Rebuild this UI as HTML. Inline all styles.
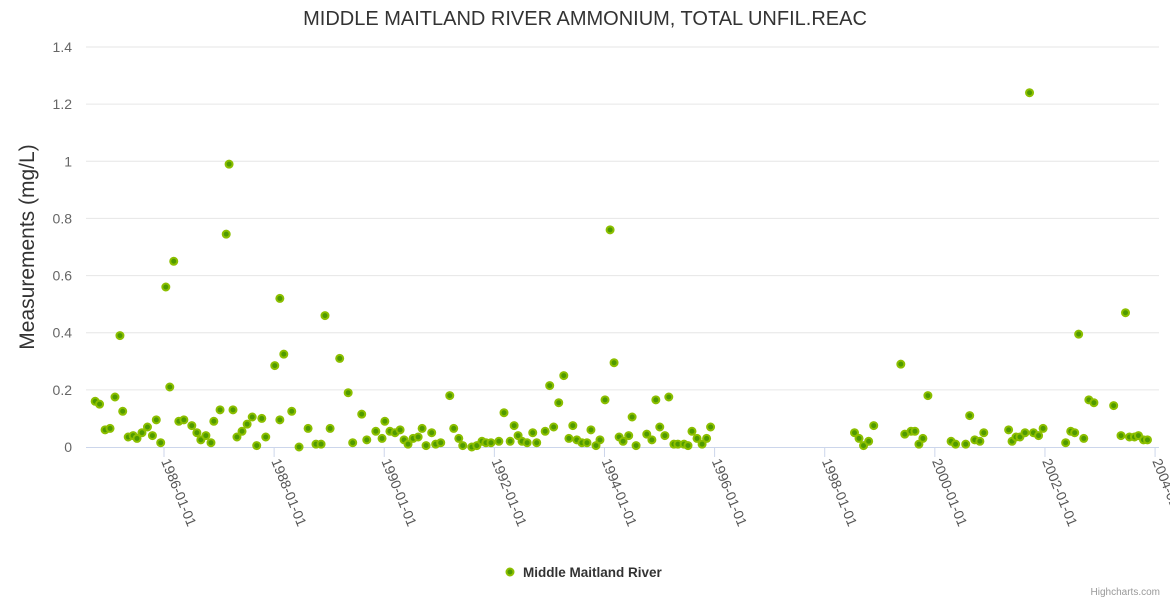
<!DOCTYPE html>
<html><head><meta charset="utf-8">
<style>
body{margin:0;background:#fff;width:1170px;height:600px;overflow:hidden;font-family:"Liberation Sans",sans-serif}
</style></head>
<body>
<svg id="chart" width="1170" height="600" xmlns="http://www.w3.org/2000/svg">
<text x="585" y="25" text-anchor="middle" font-size="20" fill="#333" font-family="Liberation Sans, sans-serif">MIDDLE MAITLAND RIVER AMMONIUM, TOTAL UNFIL.REAC</text>
<text transform="translate(34,247) rotate(-90)" text-anchor="middle" font-size="21" fill="#333">Measurements (mg/L)</text>
<g id="grid"></g><g id="xaxis"></g><g id="points"></g>
<g>
<circle cx="510" cy="572" r="3.5" fill="#4f9a00" stroke="#8cbf00" stroke-width="2"/>
<text x="523" y="577" font-size="13.5" font-weight="bold" fill="#333">Middle Maitland River</text>
</g>
<text x="1160" y="595" text-anchor="end" font-size="10" fill="#999">Highcharts.com</text>
</svg>
<script>
const years = [1984.75,1984.83,1984.93,1985.02,1985.11,1985.20,1985.25,1985.35,1985.44,1985.51,1985.60,1985.70,1985.79,1985.86,1985.94,1986.033,1986.105,1986.177,1986.269,1986.361,1986.505,1986.597,1986.669,1986.761,1986.853,1986.905,1987.018,1987.130,1987.182,1987.253,1987.325,1987.417,1987.510,1987.602,1987.684,1987.776,1987.848,1988.012,1988.104,1988.104,1988.176,1988.320,1988.453,1988.617,1988.760,1988.853,1988.924,1989.017,1989.191,1989.345,1989.427,1989.591,1989.683,1989.847,1989.960,1990.011,1990.103,1990.196,1990.288,1990.360,1990.432,1990.524,1990.616,1990.688,1990.760,1990.862,1990.934,1991.026,1991.190,1991.262,1991.354,1991.426,1991.590,1991.682,1991.775,1991.847,1991.939,1992.082,1992.175,1992.287,1992.359,1992.431,1992.503,1992.595,1992.697,1992.769,1992.923,1993.005,1993.077,1993.169,1993.261,1993.354,1993.425,1993.497,1993.590,1993.682,1993.754,1993.846,1993.918,1994.010,1994.102,1994.174,1994.266,1994.338,1994.440,1994.502,1994.574,1994.768,1994.861,1994.933,1995.004,1995.097,1995.168,1995.261,1995.333,1995.445,1995.517,1995.589,1995.681,1995.773,1995.855,1995.927,1998.541,1998.623,1998.705,1998.798,1998.890,1999.382,1999.454,1999.567,1999.639,1999.711,1999.783,1999.874,2000.295,2000.377,2000.561,2000.633,2000.725,2000.818,2000.889,2001.340,2001.402,2001.474,2001.546,2001.638,2001.720,2001.791,2001.884,2001.966,2002.376,2002.468,2002.540,2002.612,2002.705,2002.797,2002.889,2003.248,2003.381,2003.463,2003.535,2003.626,2003.698,2003.790,2003.862];
const values = [0.16,0.15,0.06,0.065,0.175,0.39,0.125,0.035,0.04,0.03,0.05,0.07,0.04,0.095,0.015,0.56,0.21,0.65,0.09,0.095,0.075,0.05,0.025,0.04,0.015,0.09,0.13,0.745,0.99,0.13,0.035,0.055,0.08,0.105,0.005,0.1,0.035,0.285,0.52,0.095,0.325,0.125,0.0,0.065,0.01,0.01,0.46,0.065,0.31,0.19,0.015,0.115,0.025,0.055,0.03,0.09,0.055,0.05,0.06,0.025,0.01,0.03,0.035,0.065,0.005,0.05,0.01,0.015,0.18,0.065,0.03,0.005,0.0,0.005,0.02,0.015,0.015,0.02,0.12,0.02,0.075,0.04,0.02,0.015,0.05,0.015,0.055,0.215,0.07,0.155,0.25,0.03,0.075,0.025,0.015,0.015,0.06,0.005,0.025,0.165,0.76,0.295,0.035,0.02,0.04,0.105,0.005,0.045,0.025,0.165,0.07,0.04,0.175,0.01,0.01,0.01,0.005,0.055,0.03,0.01,0.03,0.07,0.05,0.03,0.005,0.02,0.075,0.29,0.045,0.055,0.055,0.01,0.03,0.18,0.02,0.01,0.01,0.11,0.025,0.02,0.05,0.06,0.02,0.035,0.035,0.05,1.24,0.05,0.04,0.065,0.015,0.055,0.05,0.395,0.03,0.165,0.155,0.145,0.04,0.47,0.035,0.035,0.04,0.025,0.025];
const yTicks = [0,0.2,0.4,0.6,0.8,1,1.2,1.4];
const yTickLabels = ["0","0.2","0.4","0.6","0.8","1","1.2","1.4"];
const xTicks = [1986,1988,1990,1992,1994,1996,1998,2000,2002,2004];
const xTickLabels = ["1986-01-01","1988-01-01","1990-01-01","1992-01-01","1994-01-01","1996-01-01","1998-01-01","2000-01-01","2002-01-01","2004-01-01"];

const NS="http://www.w3.org/2000/svg";
const X0=86,X1=1159,Y0=447,Y1=47;
function xs(yr){return 164+(yr-1986)*55.06;}
function ys(v){return Y0-(v/1.4)*(Y0-Y1);}
function mk(t,a,p){const e=document.createElementNS(NS,t);for(const k in a)e.setAttribute(k,a[k]);p.appendChild(e);return e;}
const grid=document.getElementById('grid'),xa=document.getElementById('xaxis'),pts=document.getElementById('points');
yTicks.forEach((v,i)=>{
  if(i>0){const l=mk('line',{x1:X0,x2:X1,y1:ys(v),y2:ys(v),stroke:'#e6e6e6','stroke-width':1},grid);
  
  }
  const t=mk('text',{x:72,y:ys(v)+5,'text-anchor':'end','font-size':14,fill:'#666'},grid);
  t.textContent=yTickLabels[i];
  
  
});
const ax=mk('line',{x1:X0,x2:X1,y1:Y0+0.5,y2:Y0+0.5,stroke:'#ccd6eb','stroke-width':1},xa);


xTicks.forEach((yr,i)=>{
  const x=xs(yr);
  const tk=mk('line',{x1:x,x2:x,y1:Y0,y2:Y0+10,stroke:'#ccd6eb'},xa);
  
  
  const t=mk('text',{x:0,y:0,'font-size':14,fill:'#555',transform:`translate(${x-3},${Y0+14}) rotate(68)`},xa);
  t.textContent=xTickLabels[i];
  
  
});
years.forEach((yr,i)=>{
  const c=mk('circle',{cx:xs(yr),cy:ys(values[i]),r:3.5,fill:'#4f9a00',stroke:'#8cbf00','stroke-width':2},pts);
  
  
});
</script>
</body></html>
